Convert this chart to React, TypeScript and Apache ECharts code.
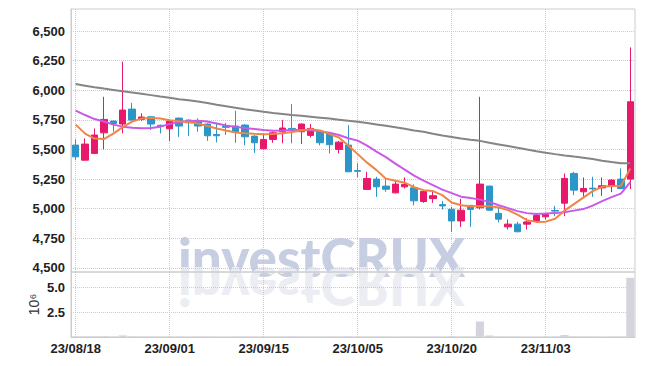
import React, { useEffect, useRef } from 'react';
import * as echarts from 'echarts';

const dates = [
  '23/08/18', '23/08/21', '23/08/22', '23/08/23', '23/08/24', '23/08/25', '23/08/28', '23/08/29', '23/08/30', '23/08/31',
  '23/09/01', '23/09/04', '23/09/05', '23/09/06', '23/09/07', '23/09/08', '23/09/11', '23/09/12', '23/09/13', '23/09/14',
  '23/09/15', '23/09/18', '23/09/19', '23/09/20', '23/09/21', '23/09/22', '23/09/25', '23/09/26', '23/09/27', '23/10/04',
  '23/10/05', '23/10/06', '23/10/10', '23/10/11', '23/10/12', '23/10/13', '23/10/16', '23/10/17', '23/10/18', '23/10/19',
  '23/10/20', '23/10/23', '23/10/24', '23/10/25', '23/10/26', '23/10/27', '23/10/30', '23/10/31', '23/11/01', '23/11/02',
  '23/11/03', '23/11/06', '23/11/07', '23/11/08', '23/11/09', '23/11/10', '23/11/13', '23/11/14', '23/11/15', '23/11/16',
];

const openPrices = [
  5537, 5410, 5467, 5641, 5740, 5715, 5841, 5754, 5776, 5704,
  5675, 5765, 5748, 5737, 5715, 5627, 5698, 5698, 5706, 5613,
  5506, 5585, 5650, 5678, 5650, 5619, 5655, 5636, 5501, 5537,
  5322, 5163, 5250, 5191, 5134, 5185, 5177, 5061, 5085, 5035,
  4996, 4897, 5028, 5008, 5191, 4961, 4847, 4870, 4870, 4897,
  4932, 4985, 5047, 5298, 5143, 5174, 5176, 5191, 5250, 5250,
];
const closePrices = [
  5438, 5546, 5622, 5754, 5720, 5833, 5748, 5774, 5715, 5695,
  5740, 5698, 5726, 5698, 5616, 5616, 5687, 5650, 5607, 5557,
  5585, 5641, 5681, 5664, 5715, 5678, 5557, 5540, 5562, 5312,
  5316, 5256, 5185, 5165, 5208, 5205, 5067, 5146, 5110, 5024,
  4897, 4988, 4994, 5208, 4988, 4912, 4870, 4806, 4889, 4943,
  4952, 4980, 5256, 5157, 5171, 5168, 5194, 5242, 5171, 5903,
];
const lowPrices = [
  5410, 5405, 5461, 5501, 5650, 5636, 5745, 5740, 5664, 5636,
  5573, 5607, 5613, 5650, 5573, 5560, 5622, 5557, 5535, 5472,
  5500, 5557, 5552, 5552, 5546, 5602, 5535, 5467, 5467, 5310,
  5264, 5160, 5100, 5143, 5130, 5172, 5028, 5050, 5050, 4993,
  4804, 4847, 4847, 4994, 4985, 4885, 4825, 4800, 4825, 4880,
  4909, 4937, 4937, 5115, 5100, 5100, 5109, 5140, 5165, 5166,
];
const highPrices = [
  5585, 5594, 5678, 5945, 5745, 6241, 5894, 5805, 5780, 5710,
  5745, 5770, 5755, 5763, 5720, 5725, 5725, 5827, 5715, 5620,
  5636, 5650, 5748, 5883, 5720, 5715, 5660, 5640, 5573, 5706,
  5383, 5312, 5270, 5253, 5242, 5264, 5205, 5150, 5143, 5066,
  5016, 5084, 5030, 5945, 5195, 5010, 4909, 4889, 4920, 4957,
  4966, 5024, 5298, 5312, 5264, 5270, 5264, 5250, 5340, 6362,
];
const ma5 = [
  5710, 5634, 5592, 5588, 5634, 5689, 5736, 5761, 5767, 5761,
  5747, 5738, 5733, 5719, 5699, 5677, 5660, 5644, 5637, 5632,
  5628, 5630, 5637, 5647, 5660, 5672, 5660, 5630, 5601, 5533,
  5461, 5389, 5326, 5254, 5237, 5220, 5182, 5157, 5149, 5115,
  5052, 5030, 5022, 5022, 5022, 5011, 4988, 4950, 4904, 4889,
  4891, 4916, 4984, 5039, 5094, 5149, 5185, 5191, 5193, 5340,
];
const ma20 = [
  5829, 5791, 5757, 5736, 5710, 5693, 5683, 5679, 5681, 5693,
  5715, 5731, 5740, 5742, 5736, 5719, 5702, 5691, 5682, 5674,
  5664, 5658, 5660, 5664, 5664, 5662, 5653, 5641, 5622, 5595,
  5575, 5533, 5482, 5436, 5381, 5330, 5280, 5237, 5199, 5161,
  5132, 5102, 5090, 5077, 5058, 5030, 5005, 4980, 4963, 4956,
  4959, 4963, 4971, 4984, 4997, 5026, 5064, 5098, 5128, 5225,
];
const ma60 = [
  6052, 6039, 6026, 6014, 6003, 5992, 5981, 5970, 5959, 5947,
  5936, 5925, 5915, 5905, 5892, 5878, 5865, 5852, 5840, 5829,
  5818, 5808, 5800, 5792, 5785, 5777, 5769, 5761, 5752, 5743,
  5734, 5723, 5712, 5701, 5688, 5675, 5661, 5649, 5633, 5618,
  5605, 5592, 5582, 5573, 5557, 5543, 5529, 5514, 5500, 5486,
  5473, 5461, 5450, 5440, 5431, 5419, 5406, 5394, 5383, 5383,
];
const volumes = [
  40000, 50000, 60000, 80000, 30000, 160000, 60000, 30000, 30000, 20000,
  30000, 30000, 20000, 30000, 30000, 20000, 20000, 40000, 30000, 30000,
  30000, 20000, 30000, 40000, 30000, 20000, 30000, 30000, 20000, 60000,
  30000, 30000, 30000, 20000, 20000, 20000, 30000, 20000, 20000, 20000,
  40000, 30000, 30000, 1570000, 150000, 40000, 30000, 30000, 20000, 20000,
  20000, 30000, 200000, 60000, 30000, 30000, 20000, 30000, 40000, 5970000,
];
const priceTicks = [4500, 4750, 5000, 5250, 5500, 5750, 6000, 6250, 6500];
const volumeTicks = [2500000, 5000000];

const FONT = "'Liberation Sans', Arial, sans-serif";
const GRID_LINE = { type: 'dotted' as const, color: '#c6c9d8', width: 1 };

export default function App() {
  const ref = useRef<HTMLDivElement>(null);
  useEffect(() => {
    const chart = echarts.init(ref.current!, null, { renderer: 'svg' });
    const candleData = openPrices.map((o, i) => [o, closePrices[i], lowPrices[i], highPrices[i]]);
    const labelStyle = { color: '#222', fontSize: 13, fontFamily: FONT, fontWeight: 'bold' as const };
    chart.setOption({
      animation: false,
      backgroundColor: '#ffffff',
      grid: [
        { left: 71, right: 10, top: 9, height: 263, show: true, borderColor: '#cccccc', borderWidth: 1 },
        { left: 71, right: 10, top: 272, height: 65, show: true, borderColor: '#cccccc', borderWidth: 1 },
      ],
      graphic: [
        {
          type: 'text', x: 178, y: 272, z: -10, silent: true,
          style: { text: 'investCRUX', x: 0, y: 11, verticalAlign: 'bottom', font: '900 53px Lato', fill: '#c7cee2' },
        },
        {
          type: 'text', x: 178, y: 272, scaleY: -1, z: -10, silent: true,
          style: { text: 'investCRUX', x: 0, y: 11, verticalAlign: 'bottom', font: '900 53px Lato', fill: '#ebedf3' },
        },
      ],
      xAxis: [
        {
          type: 'category', gridIndex: 0, data: dates, boundaryGap: true,
          axisLine: { show: false }, axisTick: { show: false, interval: 9, alignWithLabel: true },
          axisLabel: { show: false, interval: 9 },
          splitLine: { show: true, interval: 9, alignWithLabel: true, lineStyle: GRID_LINE },
        },
        {
          type: 'category', gridIndex: 1, data: dates, boundaryGap: true,
          axisLine: { show: true, lineStyle: { color: '#cccccc' } },
          axisTick: { show: false, interval: 9, alignWithLabel: true },
          axisLabel: { show: true, interval: 9, margin: 5, ...labelStyle },
          splitLine: { show: true, interval: 9, alignWithLabel: true, lineStyle: GRID_LINE },
        },
      ],
      yAxis: [
        {
          type: 'value', gridIndex: 0, min: 4466, max: 6686, scale: true,
          axisLine: { show: true, lineStyle: { color: '#cccccc' } },
          axisTick: { show: false, customValues: priceTicks },
          axisLabel: {
            customValues: priceTicks, margin: 6, ...labelStyle,
            formatter: (v: number) => v.toLocaleString('en-US'),
          },
          splitLine: { show: true, lineStyle: GRID_LINE },
        },
        {
          type: 'value', gridIndex: 1, min: 0, max: 6550000,
          name: '10⁶', nameLocation: 'middle', nameRotate: 90, nameGap: 30, nameMoveOverlap: false,
          nameTextStyle: { color: '#333', fontSize: 14, fontFamily: FONT },
          axisLine: { show: true, lineStyle: { color: '#cccccc' } },
          axisTick: { show: false, customValues: volumeTicks },
          axisLabel: {
            customValues: volumeTicks, margin: 6, ...labelStyle,
            formatter: (v: number) => (v / 1e6).toFixed(1),
          },
          splitLine: { show: true, lineStyle: GRID_LINE },
        },
      ],
      series: [
        {
          type: 'candlestick', xAxisIndex: 0, yAxisIndex: 0, data: candleData, barWidth: '74%',
          itemStyle: { color: '#e8196a', color0: '#2b96c8', borderColor: '#e8196a', borderColor0: '#2b96c8', borderWidth: 1 },
        },
        {
          type: 'line', name: 'MA60', xAxisIndex: 0, yAxisIndex: 0, data: ma60, showSymbol: false,
          lineStyle: { color: '#858585', width: 2 },
        },
        {
          type: 'line', name: 'MA20', xAxisIndex: 0, yAxisIndex: 0, data: ma20, showSymbol: false,
          lineStyle: { color: '#c95ae6', width: 2 },
        },
        {
          type: 'line', name: 'MA5', xAxisIndex: 0, yAxisIndex: 0, data: ma5, showSymbol: false,
          lineStyle: { color: '#ef8546', width: 2 },
        },
        {
          type: 'bar', xAxisIndex: 1, yAxisIndex: 1, data: volumes, barWidth: '86%',
          itemStyle: { color: '#d4d4dc' },
        },
      ],
    });
    return () => chart.dispose();
  }, []);
  return <div ref={ref} style={{ position: 'fixed', left: 0, top: 0, width: 645, height: 366 }} />;
}
